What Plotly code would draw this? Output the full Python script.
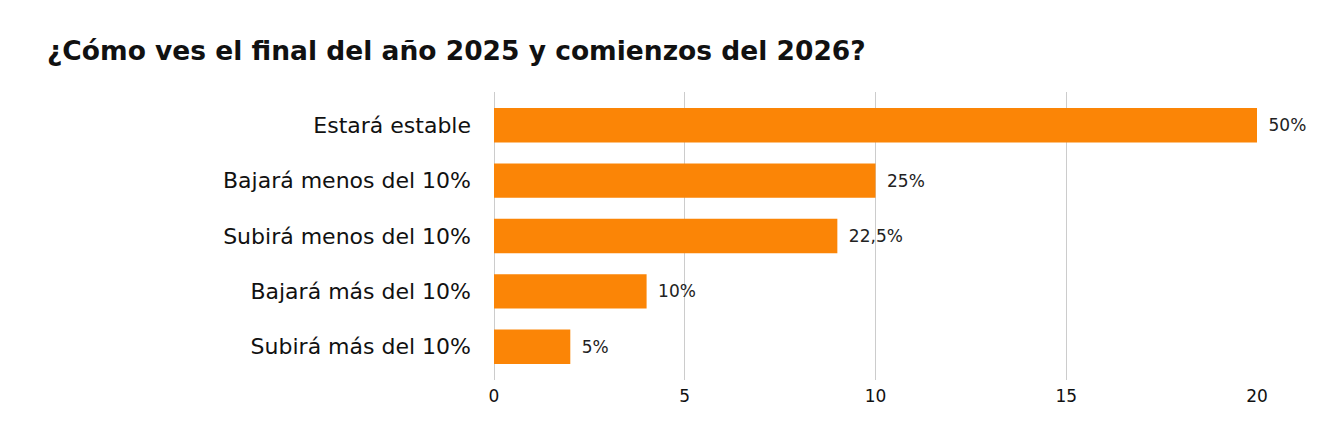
import plotly.graph_objects as go

categories = ["Estará estable", "Bajará menos del 10%", "Subirá menos del 10%",
              "Bajará más del 10%", "Subirá más del 10%"]
values = [20, 10, 9, 4, 2]
labels = ["50%", "25%", "22,5%", "10%", "5%"]
x_ticks = [0, 5, 10, 15, 20]

FONT = "DejaVu Sans"

fig = go.Figure(go.Bar(
    y=categories, x=values, orientation="h",
    marker=dict(color="#FB8506", line=dict(width=0)),
    text=labels, texttemplate="\u2002%{text}", textposition="outside", cliponaxis=False,
    textfont=dict(family=FONT, size=17, color="#222"),
    width=0.62,
))

fig.update_layout(
    width=1333, height=436,
    margin=dict(l=486, r=84, t=84, b=64),
    paper_bgcolor="white", plot_bgcolor="white",
    showlegend=False,
    title=dict(text="<b>¿Cómo ves el final del año 2025 y comienzos del 2026?</b>",
               x=39/1333, xref="container", xanchor="left",
               y=1-43/436, yref="container", yanchor="middle",
               font=dict(family=FONT, size=26.5, color="#111")),
    font=dict(family=FONT, color="#111"),
)

fig.update_xaxes(range=[0, 20], tickvals=x_ticks, showgrid=True, gridcolor="#cccccc",
                 gridwidth=1, zeroline=True, zerolinecolor="#cccccc", zerolinewidth=1,
                 showline=False, tickfont=dict(family=FONT, size=17, color="#111"),
                 ticks="", ticklabelstandoff=4)
fig.update_yaxes(categoryorder="array", categoryarray=categories[::-1],
                 range=[-0.6, 4.6], showgrid=False, zeroline=False, showline=False,
                 ticks="", ticklabelstandoff=22,
                 tickfont=dict(family=FONT, size=22, color="#111"))

fig.write_html("out.html")
